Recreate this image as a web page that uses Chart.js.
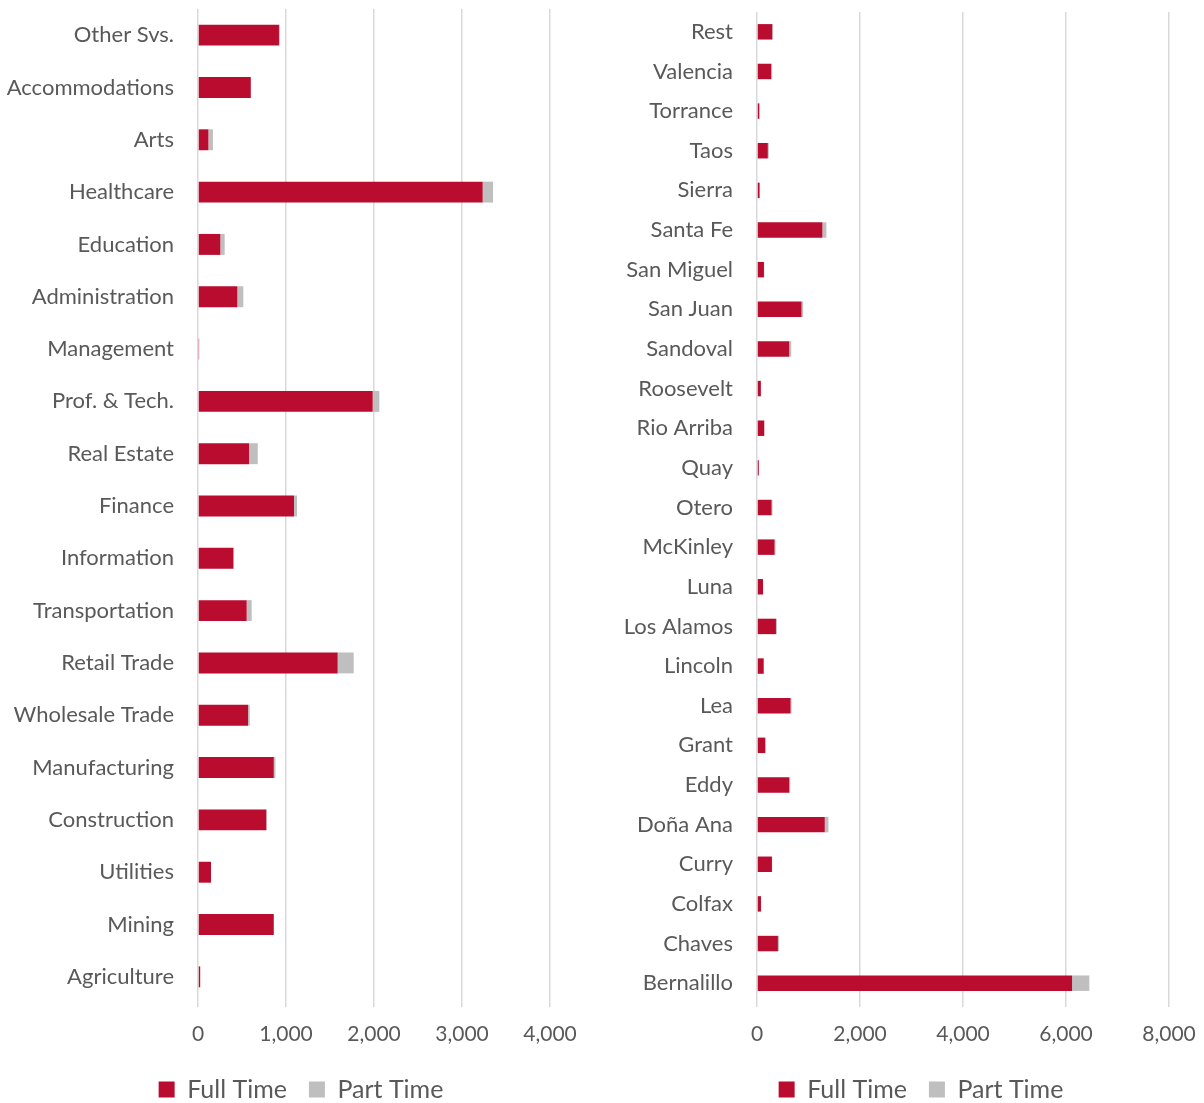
<!DOCTYPE html>
<html>
<head>
<meta charset="utf-8">
<script src="https://cdn.jsdelivr.net/npm/chart.js@4/dist/chart.umd.min.js"></script>
<style>
  body { margin: 0; background: #fff; overflow: hidden; }
  .box { position: absolute; top: 0; height: 1103px; }
  #left { left: 0; width: 602px; }
  #right { left: 600px; width: 604px; }
</style>
</head>
<body>
<div class="box" id="left"><canvas id="industryChart"></canvas></div>
<div class="box" id="right"><canvas id="countyChart"></canvas></div>
<script>
var industries = ['Other Svs.', 'Accommodations', 'Arts', 'Healthcare', 'Education', 'Administration',
  'Management', 'Prof. & Tech.', 'Real Estate', 'Finance', 'Information', 'Transportation',
  'Retail Trade', 'Wholesale Trade', 'Manufacturing', 'Construction', 'Utilities', 'Mining', 'Agriculture'];
var industryFull = [920, 600, 118, 3235, 254, 447, 12, 1985, 580, 1091, 402, 553, 1587, 569, 861, 777, 148, 861, 25];
var industryPart = [10, 3, 52, 117, 49, 68, 2, 76, 99, 34, 5, 57, 182, 19, 19, 3, 0, 2, 0];

var counties = ['Rest', 'Valencia', 'Torrance', 'Taos', 'Sierra', 'Santa Fe', 'San Miguel', 'San Juan',
  'Sandoval', 'Roosevelt', 'Rio Arriba', 'Quay', 'Otero', 'McKinley', 'Luna', 'Los Alamos', 'Lincoln',
  'Lea', 'Grant', 'Eddy', 'Doña Ana', 'Curry', 'Colfax', 'Chaves', 'Bernalillo'];
var countyFull = [295, 275, 45, 210, 50, 1270, 135, 865, 626, 75, 140, 35, 283, 341, 116, 368, 130,
  652, 161, 626, 1316, 290, 77, 406, 6118];
var countyPart = [19, 19, 3, 19, 5, 77, 5, 32, 39, 3, 5, 3, 19, 19, 3, 19, 3, 19, 3, 19, 71, 5, 3, 25, 335];

var RED = '#BA0C2F';
var GREY = '#BFBFBF';
var TEXT = '#595959';

Chart.defaults.font.family = 'Lato, "Open Sans", sans-serif';
Chart.defaults.color = TEXT;
Chart.defaults.animation = false;

// moves the bottom legend so its items are centred on a given x
var legendShift = {
  id: 'legendShift',
  afterLayout: function (chart, args, o) {
    var lg = chart.legend;
    if (!lg || o.center == null) return;
    var dx = o.center - (lg.left + lg.right) / 2;
    lg.left += dx;
    lg.right += dx;
  }
};

function makeChart(id, labels, full, part, opts) {
  return new Chart(document.getElementById(id), {
    type: 'bar',
    data: {
      labels: labels,
      datasets: [
        { label: 'Full Time', data: full, backgroundColor: RED, borderWidth: 0,
          categoryPercentage: 1, barPercentage: opts.barPct },
        { label: 'Part Time', data: part, backgroundColor: GREY, borderWidth: 0,
          categoryPercentage: 1, barPercentage: opts.barPct }
      ]
    },
    plugins: [legendShift],
    options: {
      indexAxis: 'y',
      responsive: true,
      maintainAspectRatio: false,
      layout: { padding: { top: opts.padTop, bottom: -9, left: 0, right: opts.padRight } },
      plugins: {
        tooltip: { enabled: false },
        legendShift: { center: opts.legendCenter },
        legend: {
          position: 'bottom',
          labels: { boxWidth: 16, boxHeight: 16, padding: 22, color: TEXT, font: { size: 25 } }
        }
      },
      scales: {
        x: {
          stacked: true,
          min: 0,
          max: opts.max,
          ticks: { stepSize: opts.step, padding: 15, color: TEXT, font: { size: 21 } },
          grid: { color: '#D9D9D9', lineWidth: 1.5, drawTicks: true, tickLength: 4 },
          border: { display: false },
          afterFit: function (s) {
            s.height = 52;
            s.paddingLeft = 0;
            s.paddingRight = 0;
          }
        },
        y: {
          stacked: true,
          ticks: { padding: 24, color: TEXT, font: { size: 22 }, autoSkip: false },
          grid: { display: false, drawTicks: false },
          border: { display: false },
          afterFit: function (s) {
            s.width = opts.axisWidth;
            s.paddingTop = 0;
            s.paddingBottom = 0;
          }
        }
      }
    }
  });
}

makeChart('industryChart', industries, industryFull, industryPart,
  { max: 4000, step: 1000, barPct: 0.4, padTop: 9, padRight: 52, axisWidth: 198, legendCenter: 301 });
makeChart('countyChart', counties, countyFull, countyPart,
  { max: 8000, step: 2000, barPct: 0.39, padTop: 12, padRight: 35, axisWidth: 157, legendCenter: 321 });
</script>
</body>
</html>
